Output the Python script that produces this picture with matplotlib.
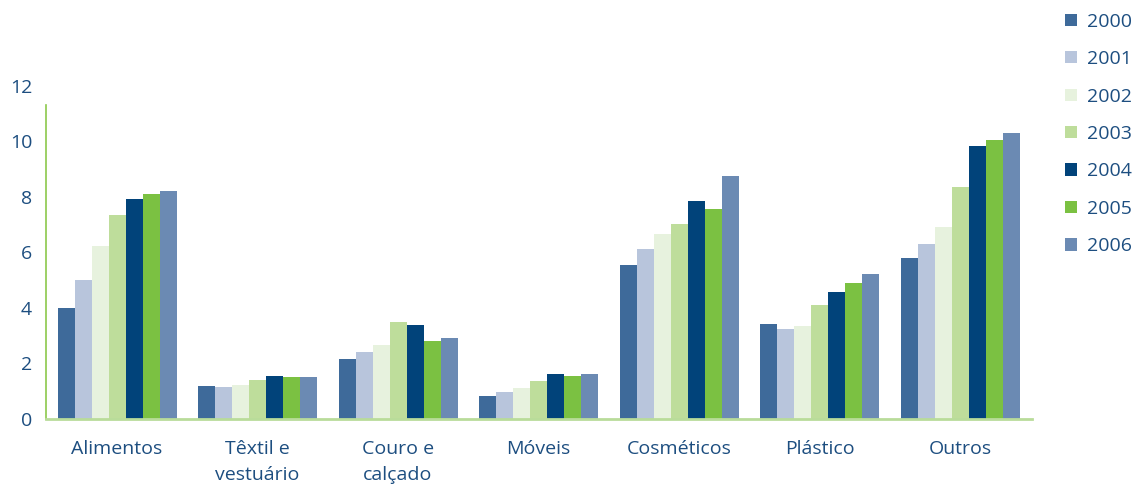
import matplotlib
matplotlib.use("Agg")
import matplotlib.pyplot as plt
from matplotlib.patches import Patch
import numpy as np

plt.rcParams['font.family'] = ['Open Sans', 'DejaVu Sans']

categories = ["Alimentos", "Têxtil e\nvestuário", "Couro e\ncalçado", "Móveis",
              "Cosméticos", "Plástico", "Outros"]
years = ["2000", "2001", "2002", "2003", "2004", "2005", "2006"]

v2000 = [4.00, 1.19, 2.16, 0.83, 5.55, 3.42, 5.80]
v2001 = [5.00, 1.15, 2.41, 0.97, 6.13, 3.24, 6.31]
v2002 = [6.23, 1.22, 2.66, 1.12, 6.67, 3.35, 6.92]
v2003 = [7.35, 1.40, 3.50, 1.37, 7.03, 4.10, 8.36]
v2004 = [7.93, 1.55, 3.39, 1.62, 7.86, 4.57, 9.84]
v2005 = [8.11, 1.51, 2.81, 1.55, 7.57, 4.90, 10.05]
v2006 = [8.22, 1.51, 2.92, 1.62, 8.76, 5.22, 10.31]
series = [v2000, v2001, v2002, v2003, v2004, v2005, v2006]

colors = ["#3e6a9a", "#b8c5dc", "#e7f2de", "#bedd9b", "#01437a", "#7bc142", "#6b8ab3"]
text_color = "#1d4e80"

fig = plt.figure(figsize=(11.4, 4.88), dpi=100)
ax = fig.add_axes([0.0404, 0.1414, 0.8646, 0.6824])

x = np.arange(len(categories))
n = len(series)
width = 0.121
for i, (vals, col) in enumerate(zip(series, colors)):
    ax.bar(x + (i - (n - 1) / 2) * width, vals, width=width, color=col,
           label=years[i], linewidth=0)

ax.set_xlim(-0.505, 6.51)
ax.set_ylim(0, 12)
ax.set_yticks(np.arange(0, 13, 2))
ax.set_xticks(x)
ax.set_xticklabels(categories, fontsize=14, color=text_color, linespacing=1.55)
ax.tick_params(axis='y', labelsize=14, labelcolor=text_color, length=0, pad=10)
ax.tick_params(axis='x', length=0, pad=15)

for side in ("top", "right"):
    ax.spines[side].set_visible(False)
ax.spines['left'].set_color("#8cc84b")
ax.spines['left'].set_linewidth(1.2)
ax.spines['left'].set_bounds(0, 11.3)
ax.spines['bottom'].set_color("#b9dc9a")
ax.spines['bottom'].set_linewidth(2)

handles = [Patch(facecolor=c, edgecolor='none', label=y) for c, y in zip(colors, years)]
fig.legend(handles=handles, loc="upper left", bbox_to_anchor=(0.9275, 0.99),
           frameon=False, fontsize=14, labelcolor=text_color,
           handlelength=0.6, handleheight=0.6, handletextpad=0.55,
           labelspacing=1.0, borderaxespad=0)

fig.savefig("out.png", dpi=100)
